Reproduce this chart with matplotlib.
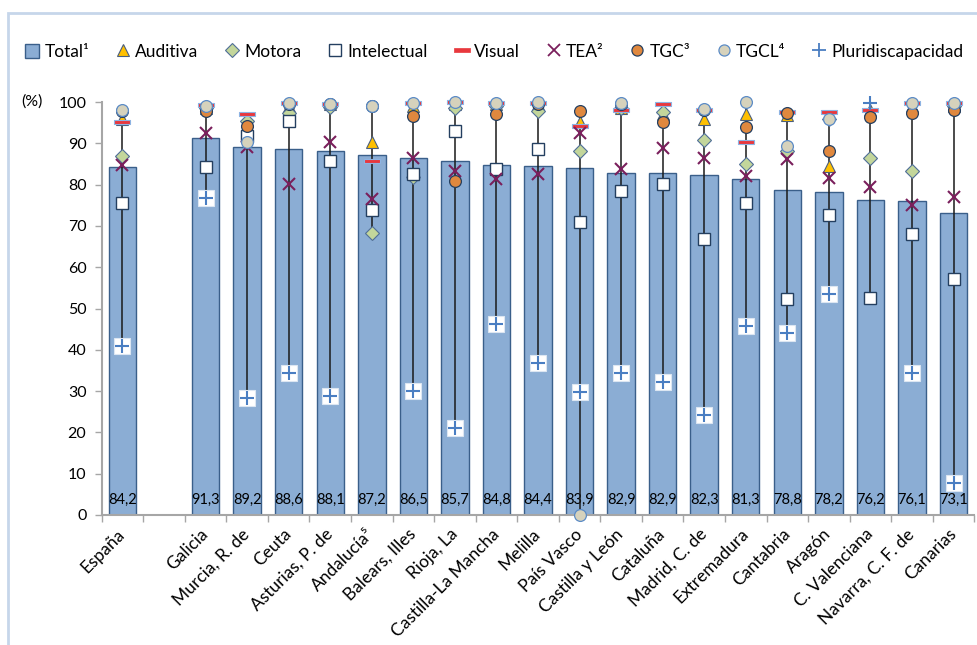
import numpy as np
import matplotlib
matplotlib.use("Agg")
import matplotlib.pyplot as plt
from matplotlib.lines import Line2D
from matplotlib.patches import Patch, Rectangle
from matplotlib.path import Path

plt.rcParams['font.family'] = ['Lato', 'DejaVu Sans']

nan = np.nan

# categories (one empty slot after España)
categories = ['España', '', 'Galicia', 'Murcia, R. de', 'Ceuta', 'Asturias, P. de',
              'Andalucía⁵', 'Balears, Illes', 'Rioja, La', 'Castilla-La Mancha',
              'Melilla', 'País Vasco', 'Castilla y León', 'Cataluña', 'Madrid, C. de',
              'Extremadura', 'Cantabria', 'Aragón', 'C. Valenciana',
              'Navarra, C. F. de', 'Canarias']

total = [84.2, nan, 91.3, 89.2, 88.6, 88.1, 87.2, 86.5, 85.7, 84.8, 84.4,
         83.9, 82.9, 82.9, 82.3, 81.3, 78.8, 78.2, 76.2, 76.1, 73.1]
auditiva = [95.8, nan, 98.5, 95.5, 99.0, 99.5, 90.2, 99.0, 99.5, 99.5, 99.5,
            95.2, 98.5, 97.0, 96.0, 97.1, 96.8, 84.6, 98.0, 99.0, 99.0]
motora = [87.0, nan, 98.5, 95.4, 97.4, 98.8, 68.2, 81.8, 98.5, 99.0, 97.9,
          88.2, 98.5, 97.5, 90.8, 85.0, 88.1, 96.0, 86.4, 83.4, 99.0]
intelectual = [75.5, nan, 84.3, 91.8, 95.4, 85.7, 73.8, 82.6, 93.0, 83.8, 88.5,
               70.9, 78.5, 80.1, 66.8, 75.6, 52.3, 72.6, 52.6, 68.0, 57.1]
visual = [95.2, nan, 99.2, 97.0, 99.8, 99.5, 85.6, 99.7, 99.9, 99.7, 99.8,
          94.2, 98.1, 99.4, 98.0, 90.2, 97.5, 97.6, 98.0, 99.8, 99.8]
tea = [84.7, nan, 92.5, 89.2, 80.1, 90.2, 76.4, 86.5, 83.4, 81.4, 82.5,
       92.6, 83.8, 88.8, 86.5, 82.2, 86.1, 81.5, 79.3, 75.1, 77.1]
tgc = [97.8, nan, 97.8, 94.3, 99.5, 99.5, 99.0, 96.6, 80.9, 97.1, 99.5,
       97.7, 99.5, 95.1, 98.0, 93.9, 97.3, 88.1, 96.3, 97.3, 98.1]
tgcl = [98.0, nan, 99.1, 90.2, 99.8, 99.5, 99.1, 99.7, 99.9, 99.7, 99.9,
        0.0, 99.8, nan, 98.3, 99.9, 89.3, 95.9, nan, 99.8, 99.8]
pluri = [41.0, nan, 76.7, 28.4, 34.3, 28.8, nan, 30.1, 21.0, 46.2, 36.8,
         29.7, 34.5, 32.3, 24.2, 45.8, 44.0, 53.5, 99.7, 34.5, 7.8]

bar_color = '#8BADD4'
bar_edge = '#3A5F8A'

fig = plt.figure(figsize=(9.77, 6.45), dpi=100)
ax = fig.add_axes([101.7 / 977, 1 - 515 / 645, (974.3 - 101.7) / 977, (515 - 102) / 645])

x = np.arange(len(categories))
ax.bar(x, total, width=0.66, color=bar_color, edgecolor=bar_edge, linewidth=1.0, zorder=1)

for xi, v in zip(x, total):
    if not np.isnan(v):
        ax.text(xi, 3.6, f"{v:.1f}".replace('.', ','), ha='center', va='center',
                fontsize=10.5, color='black', zorder=2)

# high-low lines
series_all = np.array([auditiva, motora, intelectual, visual, tea, tgc, tgcl, pluri])
for i in range(len(categories)):
    col = series_all[:, i]
    col = col[~np.isnan(col)]
    if len(col):
        ax.plot([i, i], [col.min(), col.max()], color='#1a1a1a', lw=1.1, zorder=3)

dash = Path([(-1, -0.3), (1, -0.3), (1, 0.3), (-1, 0.3), (-1, -0.3)])

kw = dict(linestyle='none', clip_on=False)
ax.plot(x, auditiva, marker='^', ms=9, mfc='#FFC000', mec='#4A5F7E', mew=0.8, zorder=4, **kw)
ax.plot(x, motora, marker='D', ms=7.5, mfc='#C3D69B', mec='#4F6E97', mew=0.8, zorder=5, **kw)
ax.plot(x, intelectual, marker='s', ms=9, mfc='white', mec='#243F60', mew=1.0, zorder=6, **kw)
ax.plot(x, visual, marker=dash, ms=11.5, mfc='#E8383D', mec='#8EB4E3', mew=0.8, zorder=7, **kw)
ax.plot(x, tea, marker='x', ms=8.5, mec='#7A1F5C', mew=1.5, zorder=8, **kw)
ax.plot(x, tgc, marker='o', ms=8.5, mfc='#E0883E', mec='#243F60', mew=0.9, zorder=9, **kw)
ax.plot(x, tgcl, marker='o', ms=8.5, mfc='#D6D2BC', mec='#5B8BC6', mew=0.9, zorder=10, **kw)
pl_box = [v if v < 95 else nan for v in pluri]
ax.plot(x, pl_box, marker='s', ms=11, mfc='white', mec='#DCE6F2', mew=0.8, zorder=11, **kw)
ax.plot(x, pluri, marker='+', ms=10, mec='#4A7EC2', mew=1.5, zorder=12, **kw)

ax.set_xlim(-0.5, len(categories) - 0.5)
ax.set_ylim(0, 100)
ax.set_yticks(np.arange(0, 101, 10))
ax.tick_params(axis='y', direction='out', length=5, width=1, color='#A6A6A6',
               labelsize=11.5, pad=6)

ax.set_xticks(x)
ax.set_xticklabels(categories, rotation=45, ha='right', va='center',
                   rotation_mode='anchor', fontsize=12.5)
ax.tick_params(axis='x', length=0, pad=12)
ax.set_xticks(np.arange(-0.5, len(categories), 1), minor=True)
ax.tick_params(axis='x', which='minor', direction='out', length=5, width=1, color='#A6A6A6')

for s in ['top', 'right']:
    ax.spines[s].set_visible(False)
ax.spines['left'].set_color('#A6A6A6')
ax.spines['bottom'].set_color('#A6A6A6')
ax.spines['left'].set_linewidth(1.5)
ax.spines['bottom'].set_linewidth(1.5)

fig.text(32 / 977, 1 - 102 / 645, '(%)', ha='center', va='center', fontsize=11.5)

handles = [
    Patch(facecolor=bar_color, edgecolor=bar_edge),
    Line2D([], [], marker='^', ms=9, mfc='#FFC000', mec='#4A5F7E', mew=0.8, ls='none'),
    Line2D([], [], marker='D', ms=7, mfc='#C3D69B', mec='#4F6E97', mew=0.8, ls='none'),
    Line2D([], [], marker='s', ms=8.5, mfc='white', mec='#243F60', mew=1.0, ls='none'),
    Line2D([], [], marker=dash, ms=11, mfc='#E8383D', mec='#E8383D', mew=0.5, ls='none'),
    Line2D([], [], marker='x', ms=8, mec='#7A1F5C', mew=1.3, ls='none'),
    Line2D([], [], marker='o', ms=8, mfc='#E0883E', mec='#243F60', mew=0.9, ls='none'),
    Line2D([], [], marker='o', ms=8, mfc='#D6D2BC', mec='#5B8BC6', mew=0.9, ls='none'),
    Line2D([], [], marker='+', ms=10, mec='#4A7EC2', mew=1.3, ls='none'),
]
labels = ['Total¹', 'Auditiva', 'Motora', 'Intelectual', 'Visual', 'TEA²', 'TGC³',
          'TGCL⁴', 'Pluridiscapacidad']
fig.legend(handles, labels, loc='center', bbox_to_anchor=(0.506, 1 - 52 / 645), ncol=9,
           frameon=False, fontsize=12.5, handlelength=0.8, handleheight=0.9,
           handletextpad=0.3, columnspacing=1.55)

# chart area border
fig.add_artist(Rectangle((8 / 977, -0.1), 1.1, 1 - 13 / 645 + 0.1, transform=fig.transFigure,
                         fill=False, edgecolor='#C6D6EA', lw=2))

fig.savefig('out.png', dpi=100)
